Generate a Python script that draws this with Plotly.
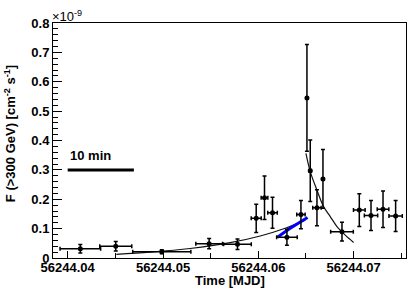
import plotly.graph_objects as go

# ---- data (flux in units of 1e-9 cm^-2 s^-1) ----
time_mjd = [56244.041324, 56244.045042, 56244.049874, 56244.054842, 56244.057815,
            56244.05978, 56244.060651, 56244.061492, 56244.063004, 56244.064475,
            56244.065105, 56244.065452, 56244.066155, 56244.066786, 56244.068782,
            56244.070599, 56244.071828, 56244.073088, 56244.074412]
time_err = [0.00213, 0.00168, 0.00305, 0.0014, 0.00145,
            0.000525, 0.00035, 0.0005, 0.00108, 0.00044,
            0.0001, 0.00012, 0.00044, 0.00012, 0.00119,
            0.00061, 0.0007, 0.00061, 0.0007]
flux = [0.0317, 0.0398, 0.0214, 0.0487, 0.0466,
        0.135, 0.205, 0.154, 0.0705, 0.148,
        0.545, 0.297, 0.171, 0.269, 0.0895,
        0.163, 0.145, 0.166, 0.143]
flux_err = [0.0145, 0.016, 0.007, 0.0175, 0.018,
            0.048, 0.074, 0.053, 0.027, 0.048,
            0.182, 0.105, 0.061, 0.1, 0.032,
            0.056, 0.051, 0.062, 0.053]

# fitted rise / decay curves
rise_t = [56244.045105, 56244.048645, 56244.052847, 56244.057048, 56244.0602, 56244.062826, 56244.064926]
rise_f = [0.0126, 0.0199, 0.0323, 0.0522, 0.0750, 0.1014, 0.129]
decay_t = [56244.065, 56244.065452, 56244.066155, 56244.066849, 56244.067553, 56244.068256, 56244.069128, 56244.07]
decay_f = [0.356, 0.294, 0.231, 0.175, 0.141, 0.107, 0.078, 0.053]
blue_t = [56244.062017, 56244.063351, 56244.065168]
blue_f = [0.0705, 0.101, 0.138]

# 10 minute scale bar
bar_start = 56244.04
bar_len_days = 10.0 / 1440.0
bar_level = 0.3
bar_label = "10 min"

x_range = [56244.038456, 56244.0755]
y_range = [0.0, 0.8]

FONT = "Liberation Sans, Arial, Helvetica, sans-serif"

fig = go.Figure()

fig.add_trace(go.Scatter(x=rise_t, y=rise_f, mode="lines", line=dict(color="#111111", width=1.2, shape="spline"),
                         hoverinfo="skip", showlegend=False))
fig.add_trace(go.Scatter(x=decay_t, y=decay_f, mode="lines", line=dict(color="#111111", width=1.2, shape="spline"),
                         hoverinfo="skip", showlegend=False))
fig.add_trace(go.Scatter(x=blue_t, y=blue_f, mode="lines", line=dict(color="#0000ff", width=3, shape="spline"),
                         hoverinfo="skip", showlegend=False))

fig.add_trace(go.Scatter(
    x=time_mjd, y=flux, mode="markers",
    marker=dict(color="black", size=5, symbol="circle"),
    error_x=dict(type="data", array=time_err, color="black", thickness=1.5, width=2),
    error_y=dict(type="data", array=flux_err, color="black", thickness=1.5, width=2),
    showlegend=False))

fig.add_trace(go.Scatter(x=[bar_start, bar_start + bar_len_days], y=[bar_level, bar_level], mode="lines",
                         line=dict(color="black", width=3), showlegend=False))

fig.update_layout(
    width=419, height=291,
    margin=dict(l=53, r=13, t=23, b=33),
    paper_bgcolor="white", plot_bgcolor="white",
    font=dict(family=FONT, color="black", size=13),
    xaxis=dict(range=x_range, tick0=56244.04, dtick=0.01, tickformat=".2f",
               ticks="inside", ticklen=7, tickwidth=1, tickcolor="black",
               ticklabelstandoff=-3,
               minor=dict(dtick=0.005, tick0=56244.04, ticks="inside", ticklen=5, tickcolor="black"),
               showline=True, linecolor="black", linewidth=1, mirror=True,
               showgrid=False, zeroline=False,
               tickfont=dict(family=FONT, size=13, weight="bold")),
    yaxis=dict(range=y_range, tick0=0, dtick=0.1,
               ticks="inside", ticklen=9, tickwidth=1, tickcolor="black",
               minor=dict(dtick=0.02, ticks="inside", ticklen=5, tickcolor="black"),
               showline=True, linecolor="black", linewidth=1, mirror=True,
               showgrid=False, zeroline=False,
               tickfont=dict(family=FONT, size=13, weight="bold")),
)

fig.add_annotation(text="Time [MJD]", xref="paper", yref="paper", x=0.5, y=-0.095,
                   xanchor="center", yanchor="middle", showarrow=False,
                   font=dict(family=FONT, size=13, weight="bold"))
fig.add_annotation(text="F (>300 GeV) [cm<sup>-2</sup> s<sup>-1</sup>]", xref="paper", yref="paper",
                   x=-0.122, y=0.531, xanchor="center", yanchor="middle", textangle=-90, showarrow=False,
                   font=dict(family=FONT, size=13, weight="bold"))
fig.add_annotation(text="\u00d710<sup>-9</sup>", xref="paper", yref="paper", x=0, y=1,
                   xanchor="left", yanchor="bottom", xshift=-3, yshift=-3, showarrow=False,
                   font=dict(family=FONT, size=13))
fig.add_annotation(text=bar_label, x=bar_start, y=bar_level, xref="x", yref="y",
                   xanchor="left", yanchor="bottom", yshift=5, showarrow=False,
                   font=dict(family=FONT, size=13, weight="bold"))

fig.write_html("out.html", config={"displayModeBar": False},
               post_script="document.body.style.margin='0';document.body.style.padding='0';"
                           "document.documentElement.style.overflow='hidden';")
